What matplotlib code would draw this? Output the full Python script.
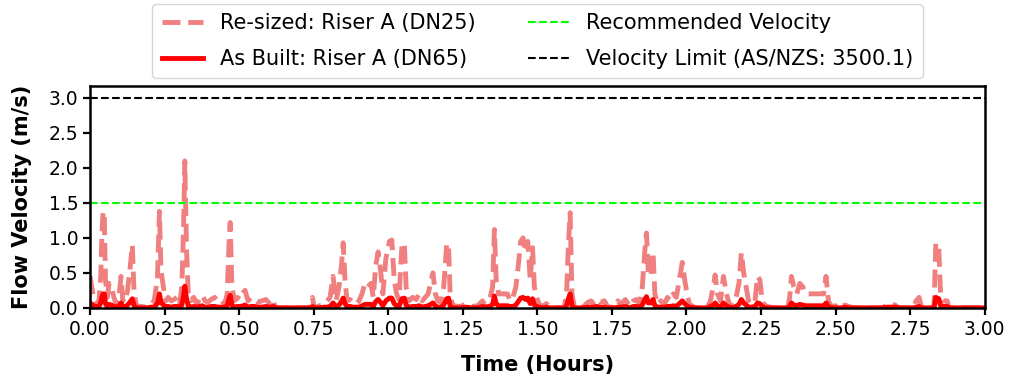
import numpy as np
import matplotlib; matplotlib.use("Agg")
import matplotlib.pyplot as plt

# time (hours) and flow velocity (m/s)
time_h = [0.000, 0.006, 0.012, 0.020, 0.030, 0.036, 0.040, 0.044, 0.048, 0.052, 0.058, 0.064, 0.072, 0.080, 0.088,
          0.096, 0.104, 0.110, 0.118, 0.126, 0.134, 0.142, 0.148, 0.156, 0.170, 0.190, 0.205, 0.215, 0.226, 0.233,
          0.238, 0.246, 0.254, 0.262, 0.272, 0.282, 0.292, 0.300, 0.308, 0.314, 0.318, 0.324, 0.330, 0.338, 0.348,
          0.358, 0.366, 0.376, 0.386, 0.396, 0.406, 0.418, 0.430, 0.442, 0.452, 0.460, 0.466, 0.470, 0.476, 0.484,
          0.494, 0.504, 0.514, 0.520, 0.530, 0.540, 0.552, 0.564, 0.576, 0.590, 0.604, 0.616, 0.620, 0.740, 0.746,
          0.752, 0.770, 0.785, 0.795, 0.805, 0.815, 0.825, 0.835, 0.843, 0.849, 0.855, 0.862, 0.872, 0.882, 0.892,
          0.902, 0.912, 0.922, 0.932, 0.942, 0.950, 0.958, 0.966, 0.974, 0.982, 0.992, 1.004, 1.012, 1.020, 1.028,
          1.036, 1.046, 1.054, 1.060, 1.070, 1.082, 1.094, 1.104, 1.114, 1.124, 1.134, 1.142, 1.150, 1.158, 1.166,
          1.176, 1.186, 1.196, 1.202, 1.208, 1.218, 1.240, 1.260, 1.280, 1.300, 1.316, 1.324, 1.340, 1.350, 1.356,
          1.362, 1.370, 1.400, 1.408, 1.418, 1.428, 1.436, 1.444, 1.452, 1.460, 1.468, 1.476, 1.484, 1.490, 1.498,
          1.506, 1.520, 1.530, 1.540, 1.560, 1.590, 1.598, 1.604, 1.610, 1.616, 1.624, 1.650, 1.670, 1.680, 1.690,
          1.700, 1.710, 1.725, 1.735, 1.760, 1.770, 1.780, 1.795, 1.810, 1.822, 1.832, 1.842, 1.852, 1.860, 1.866,
          1.872, 1.880, 1.888, 1.894, 1.904, 1.914, 1.926, 1.936, 1.946, 1.956, 1.966, 1.976, 1.986, 1.994, 2.002,
          2.010, 2.030, 2.070, 2.080, 2.090, 2.096, 2.104, 2.114, 2.124, 2.134, 2.144, 2.160, 2.176, 2.184, 2.192,
          2.200, 2.208, 2.216, 2.230, 2.238, 2.246, 2.254, 2.264, 2.290, 2.340, 2.346, 2.352, 2.360, 2.370, 2.380,
          2.390, 2.400, 2.460, 2.468, 2.476, 2.486, 2.500, 2.520, 2.530, 2.545, 2.560, 2.660, 2.672, 2.686, 2.700,
          2.712, 2.760, 2.770, 2.780, 2.788, 2.830, 2.836, 2.846, 2.852, 2.860, 2.874, 2.880, 3.000]

resized_dn25 = [0.45, 0.30, 0.15, 0.05, 0.10, 0.45, 1.05, 1.38, 1.30, 0.40, 0.15, 0.35, 0.30, 0.15, 0.05,
                0.10, 0.45, 0.10, 0.08, 0.25, 0.55, 0.90, 0.20, 0.03, 0.02, 0.01, 0.05, 0.10, 0.40, 1.38,
                0.55, 0.30, 0.10, 0.15, 0.10, 0.12, 0.15, 0.05, 0.30, 1.20, 2.10, 0.80, 0.15, 0.10, 0.15,
                0.05, 0.12, 0.18, 0.10, 0.08, 0.12, 0.15, 0.08, 0.10, 0.05, 0.20, 0.90, 1.22, 0.30, 0.10,
                0.15, 0.12, 0.22, 0.25, 0.10, 0.15, 0.12, 0.08, 0.10, 0.12, 0.05, 0.12, 0.00, 0.00, 0.15,
                0.00, 0.03, 0.05, 0.10, 0.15, 0.45, 0.10, 0.30, 0.60, 0.93, 0.40, 0.10, 0.12, 0.08, 0.05,
                0.10, 0.20, 0.35, 0.30, 0.35, 0.15, 0.60, 0.80, 0.55, 0.20, 0.70, 0.95, 0.97, 0.40, 0.20,
                0.12, 0.90, 0.93, 0.30, 0.10, 0.15, 0.12, 0.20, 0.10, 0.15, 0.20, 0.35, 0.50, 0.20, 0.10,
                0.08, 0.30, 0.90, 0.92, 0.15, 0.03, 0.02, 0.05, 0.02, 0.03, 0.10, 0.05, 0.12, 0.30, 1.12,
                0.40, 0.20, 0.20, 0.10, 0.15, 0.30, 0.60, 0.95, 1.00, 0.80, 0.95, 0.40, 0.86, 0.30, 0.15,
                0.05, 0.02, 0.06, 0.02, 0.00, 0.00, 0.20, 0.90, 1.36, 0.20, 0.02, 0.00, 0.08, 0.10, 0.05,
                0.12, 0.08, 0.10, 0.02, 0.00, 0.10, 0.05, 0.12, 0.02, 0.10, 0.12, 0.05, 0.30, 0.80, 1.07,
                0.50, 0.45, 0.80, 0.20, 0.05, 0.10, 0.05, 0.15, 0.10, 0.20, 0.15, 0.40, 0.65, 0.40, 0.20,
                0.05, 0.00, 0.00, 0.10, 0.30, 0.47, 0.20, 0.10, 0.45, 0.20, 0.05, 0.02, 0.35, 0.79, 0.50,
                0.30, 0.10, 0.05, 0.10, 0.45, 0.40, 0.10, 0.03, 0.00, 0.00, 0.15, 0.45, 0.30, 0.20, 0.35,
                0.30, 0.20, 0.20, 0.45, 0.10, 0.02, 0.03, 0.00, 0.04, 0.02, 0.00, 0.00, 0.06, 0.05, 0.04,
                0.00, 0.00, 0.10, 0.15, 0.00, 0.00, 0.93, 0.85, 0.20, 0.10, 0.10, 0.00, 0.00]

asbuilt_dn65 = [0.07, 0.05, 0.03, 0.02, 0.02, 0.07, 0.16, 0.20, 0.20, 0.06, 0.02, 0.05, 0.04, 0.02, 0.01,
                0.02, 0.07, 0.02, 0.01, 0.04, 0.08, 0.13, 0.03, 0.00, 0.00, 0.00, 0.01, 0.01, 0.06, 0.20,
                0.08, 0.04, 0.02, 0.02, 0.01, 0.02, 0.02, 0.01, 0.04, 0.18, 0.31, 0.12, 0.02, 0.01, 0.02,
                0.01, 0.02, 0.03, 0.01, 0.01, 0.02, 0.02, 0.01, 0.01, 0.01, 0.03, 0.13, 0.18, 0.04, 0.01,
                0.02, 0.02, 0.03, 0.04, 0.01, 0.02, 0.02, 0.01, 0.01, 0.02, 0.01, 0.02, 0.00, 0.00, 0.02,
                0.00, 0.00, 0.01, 0.01, 0.02, 0.07, 0.02, 0.04, 0.09, 0.14, 0.06, 0.02, 0.02, 0.01, 0.01,
                0.01, 0.03, 0.05, 0.05, 0.05, 0.02, 0.09, 0.12, 0.08, 0.03, 0.10, 0.14, 0.14, 0.06, 0.03,
                0.02, 0.13, 0.14, 0.04, 0.01, 0.02, 0.02, 0.03, 0.01, 0.02, 0.03, 0.05, 0.07, 0.03, 0.01,
                0.01, 0.04, 0.13, 0.14, 0.02, 0.00, 0.00, 0.01, 0.00, 0.00, 0.02, 0.01, 0.02, 0.05, 0.17,
                0.06, 0.03, 0.03, 0.02, 0.02, 0.04, 0.09, 0.14, 0.15, 0.12, 0.14, 0.06, 0.13, 0.04, 0.02,
                0.01, 0.00, 0.01, 0.00, 0.00, 0.00, 0.03, 0.13, 0.20, 0.03, 0.00, 0.00, 0.01, 0.01, 0.01,
                0.02, 0.01, 0.01, 0.00, 0.00, 0.01, 0.01, 0.02, 0.00, 0.02, 0.02, 0.01, 0.04, 0.12, 0.16,
                0.07, 0.07, 0.12, 0.03, 0.01, 0.01, 0.01, 0.02, 0.02, 0.03, 0.02, 0.06, 0.10, 0.06, 0.03,
                0.01, 0.00, 0.00, 0.02, 0.04, 0.07, 0.03, 0.01, 0.07, 0.03, 0.01, 0.00, 0.05, 0.12, 0.07,
                0.04, 0.01, 0.01, 0.02, 0.07, 0.06, 0.02, 0.00, 0.00, 0.00, 0.02, 0.07, 0.04, 0.03, 0.05,
                0.04, 0.03, 0.03, 0.07, 0.02, 0.00, 0.00, 0.00, 0.01, 0.00, 0.00, 0.00, 0.01, 0.01, 0.01,
                0.00, 0.00, 0.01, 0.02, 0.00, 0.00, 0.15, 0.13, 0.03, 0.02, 0.02, 0.00, 0.00]

recommended_velocity = 1.5
velocity_limit = 3.0
x_ticks = np.arange(0, 3.01, 0.25)
y_ticks = np.arange(0, 3.01, 0.5)

fig = plt.figure(figsize=(10.11, 3.81), dpi=100)
ax = fig.add_axes([0.089, 0.192, 0.885, 0.582])

ax.plot(time_h, resized_dn25, color="lightcoral", ls="--", lw=3.5, label="Re-sized: Riser A (DN25)")
ax.plot(time_h, asbuilt_dn65, color="red", lw=3.5, label="As Built: Riser A (DN65)")
ax.axhline(recommended_velocity, color="lime", ls="--", lw=1.5, label="Recommended Velocity")
ax.axhline(velocity_limit, color="black", ls="--", lw=1.5, label="Velocity Limit (AS/NZS: 3500.1)")

ax.set_xlim(0, 3)
ax.set_ylim(0, 3.17)
ax.set_xticks(x_ticks)
ax.set_yticks(y_ticks)
ax.tick_params(labelsize=13.5, width=1.6, length=5)
for s in ax.spines.values():
    s.set_linewidth(1.8)
ax.set_xlabel("Time (Hours)", fontsize=15, fontweight="bold", labelpad=12)
ax.set_ylabel("Flow Velocity (m/s)", fontsize=15, fontweight="bold", labelpad=12)

ax.legend(loc="lower center", bbox_to_anchor=(0.5, 1.035), ncol=2, fontsize=15,
          columnspacing=2.5, labelspacing=0.75, borderpad=0.45, borderaxespad=0)

fig.savefig("out.png", dpi=100)
